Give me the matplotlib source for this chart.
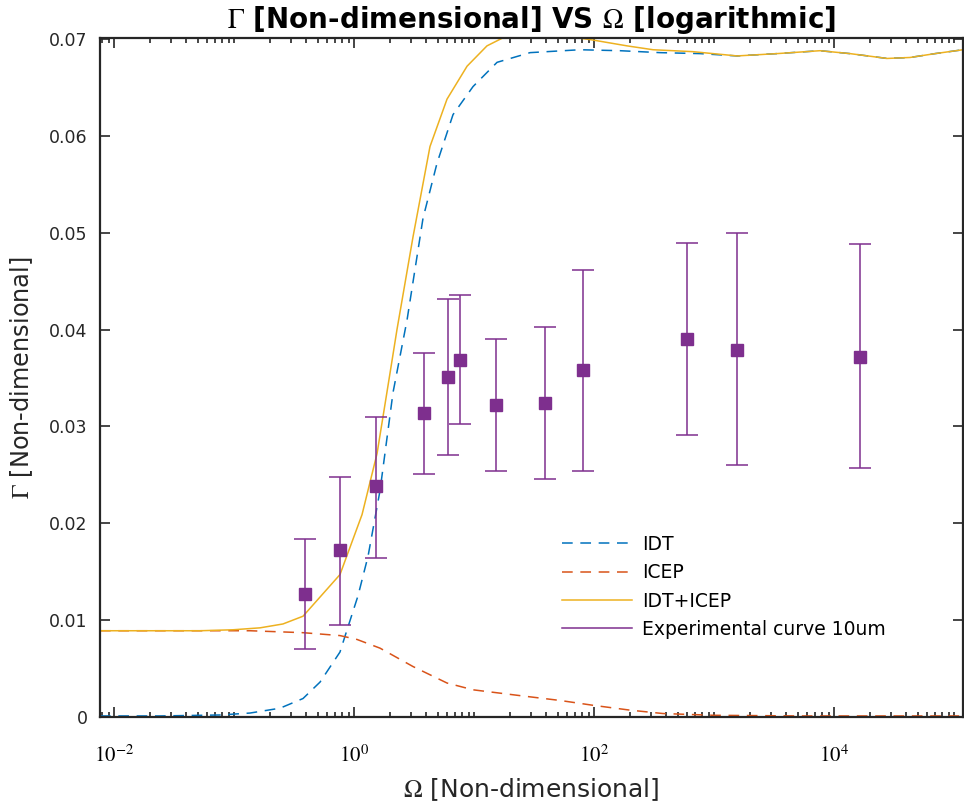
import numpy as np
import matplotlib
matplotlib.use('Agg')
import matplotlib.pyplot as plt
from matplotlib.lines import Line2D
from matplotlib.ticker import FixedLocator, LogLocator, NullFormatter

plt.rcParams['mathtext.fontset'] = 'stix'
plt.rcParams['font.family'] = 'DejaVu Sans'

# model curves (x as log10 of Omega)
log_omega_idt = [-2.117, -1.617, -1.117, -0.867, -0.617, -0.425, -0.283, -0.117, -0.058,
                 0.033, 0.117, 0.217, 0.325, 0.442, 0.575, 0.692, 0.825, 0.992, 1.192,
                 1.467, 1.883, 2.217, 2.55, 2.883, 3.192, 3.525, 3.883, 4.133, 4.442,
                 4.633, 4.842, 5.075]
gamma_idt = [0.0001, 0.0001, 0.0002, 0.0004, 0.0009, 0.0019, 0.0036, 0.0067, 0.0090,
             0.0125, 0.0166, 0.0234, 0.0335, 0.0410, 0.0515, 0.0572, 0.0622, 0.0651, 0.0676,
             0.0686, 0.0689, 0.0688, 0.0686, 0.0685, 0.06826, 0.0685, 0.0688, 0.0685, 0.0680,
             0.0681, 0.0685, 0.0689]

log_omega_icep = [-2.117, -0.867, -0.425, -0.117, 0.025, 0.217, 0.492, 0.775, 0.992,
                  1.383, 1.717, 1.992, 2.3, 2.575, 2.992, 3.717, 5.075]
gamma_icep = [0.0089, 0.0089, 0.0087, 0.0084, 0.0080, 0.0071, 0.0052, 0.0035, 0.0028,
              0.0022, 0.0017, 0.0012, 0.0007, 0.00035, 0.00017, 0.0001, 0.0001]

log_omega_sum = [-2.117, -1.283, -1.008, -0.783, -0.592, -0.425, -0.117, 0.067, 0.192,
                 0.3, 0.358, 0.492, 0.633, 0.775, 0.942, 1.108, 1.3, 1.55, 1.825, 1.992,
                 2.275, 2.492, 2.825, 3.192, 3.525, 3.883, 4.133, 4.442, 4.633, 4.842, 5.075]
gamma_sum = [0.0089, 0.0089, 0.0090, 0.0092, 0.0096, 0.0104, 0.0147, 0.0209, 0.0272,
             0.0355, 0.0400, 0.0496, 0.0589, 0.0638, 0.0672, 0.0693, 0.0705, 0.0708, 0.0702, 0.0699,
             0.0693, 0.0689, 0.0687, 0.06826, 0.0685, 0.0688, 0.0685, 0.0680, 0.0681, 0.0685, 0.0689]

# experimental points 10um
omega_exp = [0.391, 0.764, 1.535, 3.83, 6.11, 7.64, 15.35, 38.8, 80.9, 593, 1563, 16480]
gamma_exp = [0.0127, 0.0172, 0.0238, 0.0314, 0.0351, 0.0369, 0.0322, 0.0324, 0.0358, 0.0390, 0.0379, 0.0372]
err_top = [0.0184, 0.0248, 0.0310, 0.0376, 0.0432, 0.0436, 0.0390, 0.0403, 0.0462, 0.0489, 0.0500, 0.0488]
err_bot = [0.0070, 0.0095, 0.0164, 0.0251, 0.0271, 0.0303, 0.0254, 0.0246, 0.0254, 0.0291, 0.0260, 0.0257]

xtick_vals = [1e-2, 1e0, 1e2, 1e4]
xtick_labels = [r'$10^{-2}$', r'$10^{0}$', r'$10^{2}$', r'$10^{4}$']
ytick_vals = [0, 0.01, 0.02, 0.03, 0.04, 0.05, 0.06, 0.07]
ytick_labels = ['0', '0.01', '0.02', '0.03', '0.04', '0.05', '0.06', '0.07']

c_idt = '#0072BD'
c_icep = '#D95319'
c_sum = '#EDB120'
c_exp = '#7E2F8E'

fig = plt.figure(figsize=(9.64, 8.11), dpi=100)
ax = fig.add_axes([0.1037, 0.116, 0.8953, 0.837])

ax.plot(10 ** np.array(log_omega_idt), gamma_idt, color=c_idt, lw=1.1, dashes=(7, 5))
ax.plot(10 ** np.array(log_omega_icep), gamma_icep, color=c_icep, lw=1.1, dashes=(7, 5))
ax.plot(10 ** np.array(log_omega_sum), gamma_sum, color=c_sum, lw=1.1)

yerr = [np.array(gamma_exp) - np.array(err_bot), np.array(err_top) - np.array(gamma_exp)]
ax.errorbar(omega_exp, gamma_exp, yerr=yerr, fmt='s', color=c_exp, ms=8.6,
            elinewidth=1.1, capsize=8, capthick=1.1, mec=c_exp, mfc=c_exp, zorder=5)

ax.set_xscale('log')
ax.set_xlim(10 ** -2.117, 10 ** 5.075)
ax.set_ylim(0, 0.0701)

ax.xaxis.set_major_locator(FixedLocator(xtick_vals))
ax.set_xticklabels(xtick_labels)
ax.xaxis.set_minor_locator(LogLocator(base=10, subs=np.arange(1, 10), numticks=100))
ax.xaxis.set_minor_formatter(NullFormatter())
ax.set_yticks(ytick_vals)
ax.set_yticklabels(ytick_labels)

ax.tick_params(axis='both', which='both', direction='in', top=True, right=True,
               color='#262626', width=1.2)
ax.tick_params(axis='x', which='major', length=7, pad=20, labelsize=15)
ax.tick_params(axis='x', which='minor', length=3.6)
ax.tick_params(axis='y', which='major', length=7, pad=9, labelsize=12.5, labelcolor='#262626')
for sp in ax.spines.values():
    sp.set_linewidth(1.6)
    sp.set_color('#262626')

ax.set_title(r'$\Gamma$ [Non-dimensional] VS $\Omega$ [logarithmic]', fontsize=20,
             fontweight='bold', pad=7)
ax.set_xlabel(r'$\Omega$ [Non-dimensional]', fontsize=18, color='#262626', labelpad=7)
ax.set_ylabel(r'$\Gamma$ [Non-dimensional]', fontsize=17.3, color='#262626', labelpad=10)

handles = [Line2D([], [], color=c_idt, lw=1.1, dashes=(7, 5)),
           Line2D([], [], color=c_icep, lw=1.1, dashes=(7, 5)),
           Line2D([], [], color=c_sum, lw=1.1),
           Line2D([], [], color=c_exp, lw=1.1)]
labels = ['IDT', 'ICEP', 'IDT+ICEP', 'Experimental curve 10um']
ax.legend(handles, labels, loc='upper left', bbox_to_anchor=(0.516, 0.293),
          frameon=False, fontsize=13.5, handlelength=3.73, handletextpad=0.53,
          labelspacing=0.5)

fig.savefig('out.png', dpi=100)
